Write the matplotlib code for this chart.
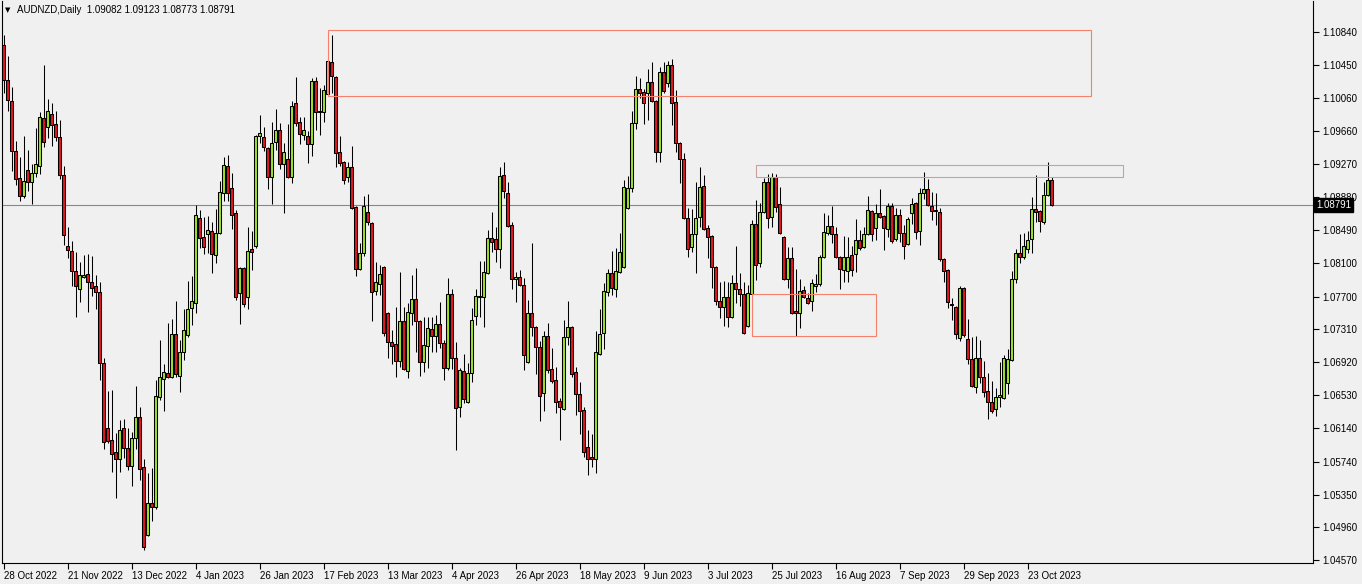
import matplotlib
matplotlib.use("Agg")
import matplotlib.pyplot as plt
from matplotlib.patches import Rectangle
import matplotlib.transforms as mtransforms
import pandas as pd

plt.rcParams['font.family'] = ['Liberation Sans', 'DejaVu Sans']

# ---------------- data ----------------
dates = pd.bdate_range("2022-10-28", periods=263)

opens = [1.10686,1.10270,1.10021,1.09428,1.09107,1.08894,1.09202,1.09059,1.09166,1.09250,
1.09819,1.09713,1.09867,1.09749,1.09594,1.09143,1.08300,1.08241,1.08003,1.07789,
1.07932,1.07968,1.07872,1.07825,1.07754,1.06911,1.06140,1.05997,1.05855,1.05772,
1.06140,1.05902,1.05689,1.06021,1.06270,1.05677,1.04870,1.05249,1.05202,1.06508,
1.06721,1.06792,1.06745,1.07256,1.06756,1.07042,1.07244,1.07564,1.07623,1.08632,
1.08407,1.08443,1.08478,1.08194,1.08454,1.08929,1.09250,1.08988,1.08691,1.07742,
1.08039,1.07694,1.08265,1.08300,1.09606,1.09594,1.09463,1.09119,1.09534,1.09677,
1.09274,1.09333,1.09119,1.09997,1.09772,1.09618,1.09606,1.09511,1.10258,1.09890,
1.09890,1.10105,1.10484,1.10306,1.09416,1.09297,1.09119,1.09238,1.08763,1.08027,
1.08217,1.08703,1.08573,1.07766,1.07849,1.08051,1.07504,1.07160,1.07137,1.06935,
1.07410,1.06816,1.07504,1.07671,1.07410,1.06923,1.07113,1.07315,1.07232,1.07375,
1.07148,1.06852,1.07730,1.06971,1.06389,1.06816,1.06448,1.06792,1.07469,1.07694,
1.07694,1.07979,1.08395,1.08383,1.08265,1.09143,1.08929,1.08550,1.07908,1.07932,
1.07837,1.06923,1.07504,1.07339,1.07101,1.06555,1.07232,1.06840,1.06709,1.06460,
1.06365,1.07220,1.07339,1.06804,1.06543,1.06353,1.05914,1.05796,1.05772,1.07019,
1.07267,1.07754,1.07979,1.07789,1.07991,1.08051,1.08751,1.08988,1.09760,1.10164,
1.10128,1.10116,1.10246,1.10021,1.09416,1.10365,1.10234,1.10449,1.10009,1.09523,
1.09333,1.08632,1.08288,1.08443,1.08644,1.09012,1.08514,1.08419,1.08051,1.07647,
1.07576,1.07694,1.07457,1.07860,1.07789,1.07730,1.07351,1.07730,1.08562,1.08098,
1.08703,1.09059,1.08644,1.09119,1.08799,1.08407,1.07908,1.08158,1.07528,1.07504,
1.07778,1.07682,1.07647,1.07825,1.07849,1.08170,1.08454,1.08538,1.08443,1.08170,
1.08015,1.08003,1.08194,1.08206,1.08371,1.08288,1.08443,1.08715,1.08514,1.08691,
1.08656,1.08502,1.08775,1.08383,1.08668,1.08454,1.08324,1.08691,1.08810,1.08478,
1.08929,1.08977,1.08775,1.08727,1.08703,1.08146,1.08015,1.07611,1.07576,1.07208,
1.07801,1.07196,1.06959,1.06626,1.06971,1.06745,1.06579,1.06448,1.06365,1.06508,
1.06496,1.06673,1.06947,1.07908,1.08217,1.08170,1.08265,1.08383,1.08739,1.08715,
1.08585,1.08906,1.09082]

highs = [1.10805,1.10556,1.10187,1.09546,1.09357,1.09606,1.09440,1.09274,1.09701,1.09890,
1.10449,1.10045,1.09997,1.09902,1.09796,1.09250,1.08526,1.08359,1.08229,1.08110,
1.08194,1.08206,1.08182,1.07956,1.07872,1.06971,1.06579,1.06591,1.06080,1.06235,
1.06246,1.06140,1.06092,1.06638,1.06389,1.05772,1.05605,1.05665,1.06709,1.07184,
1.06900,1.07386,1.07433,1.07647,1.07184,1.07552,1.07884,1.07944,1.08787,1.08727,
1.08644,1.08656,1.08585,1.08739,1.09071,1.09357,1.09381,1.09166,1.08727,1.08051,
1.08051,1.08526,1.08478,1.09618,1.09855,1.09713,1.09475,1.09772,1.09926,1.09760,
1.09523,1.09749,1.10021,1.10306,1.09831,1.09831,1.09665,1.10294,1.10306,1.10175,
1.10211,1.10532,1.10805,1.10318,1.09606,1.09309,1.09297,1.09487,1.08775,1.08336,
1.08894,1.08918,1.08585,1.08110,1.08075,1.08063,1.07516,1.07303,1.07576,1.07991,
1.07576,1.07623,1.07956,1.08039,1.07422,1.07457,1.07457,1.07457,1.07481,1.07635,
1.07184,1.07920,1.07789,1.07160,1.06852,1.07019,1.06911,1.07564,1.07789,1.08122,
1.08122,1.08490,1.08703,1.08526,1.09238,1.09297,1.09059,1.08585,1.07991,1.08015,
1.07920,1.07659,1.08336,1.07351,1.07172,1.07291,1.07386,1.07089,1.06864,1.06496,
1.07422,1.07647,1.07351,1.06864,1.06685,1.06389,1.06116,1.06069,1.07291,1.07552,
1.07860,1.08027,1.08241,1.08277,1.08454,1.09083,1.09131,1.09902,1.10318,1.10294,
1.10164,1.10401,1.10484,1.10033,1.10425,1.10484,1.10496,1.10520,1.10152,1.09534,
1.09404,1.08751,1.08739,1.09059,1.09238,1.09143,1.08550,1.08431,1.08063,1.07872,
1.07884,1.07872,1.07956,1.08300,1.07979,1.07872,1.07837,1.08609,1.08846,1.08810,
1.09107,1.09155,1.09166,1.09155,1.09000,1.08419,1.08288,1.08288,1.08027,1.07908,
1.07825,1.07742,1.07908,1.07968,1.08194,1.08691,1.08668,1.08775,1.08526,1.08182,
1.08419,1.08407,1.08300,1.08620,1.08490,1.08526,1.08894,1.08727,1.08799,1.08977,
1.08668,1.08810,1.08810,1.08751,1.08739,1.08550,1.08644,1.08870,1.08822,1.08988,
1.09178,1.09095,1.08941,1.08929,1.08751,1.08158,1.08027,1.07682,1.07588,1.07825,
1.07813,1.07433,1.07220,1.07232,1.07184,1.06935,1.06792,1.06697,1.06614,1.06923,
1.07006,1.07077,1.08003,1.08265,1.08443,1.08454,1.08478,1.08882,1.09143,1.08727,
1.09059,1.09297,1.09123]

lows = [1.10116,1.09902,1.09190,1.09024,1.08834,1.08870,1.08953,1.08799,1.09119,1.09155,
1.09475,1.09582,1.09487,1.09546,1.09095,1.08312,1.08158,1.07825,1.07457,1.07635,
1.07920,1.07516,1.07707,1.07552,1.06709,1.05890,1.05961,1.05617,1.05309,1.05617,
1.05784,1.05641,1.05451,1.05890,1.05522,1.04692,1.04858,1.05036,1.05178,1.06472,
1.06341,1.06733,1.06733,1.06745,1.06567,1.06947,1.07220,1.07363,1.07504,1.08277,
1.08206,1.08217,1.07979,1.08098,1.08443,1.08834,1.08834,1.08502,1.07659,1.07375,
1.07576,1.07552,1.08015,1.08277,1.09523,1.09428,1.08977,1.08799,1.09440,1.09214,
1.08691,1.09107,1.09047,1.09725,1.09511,1.09558,1.09285,1.09369,1.09677,1.09618,
1.09772,1.10093,1.10116,1.09238,1.09250,1.09036,1.09059,1.08739,1.07944,1.08015,
1.08182,1.08550,1.07410,1.07719,1.07719,1.07232,1.06971,1.06900,1.06745,1.06864,
1.06828,1.06733,1.07363,1.07042,1.06756,1.06804,1.06852,1.07042,1.07042,1.07089,
1.06709,1.06828,1.06840,1.05879,1.06270,1.06436,1.06436,1.06685,1.07363,1.07457,
1.07339,1.07968,1.08229,1.08110,1.08039,1.08870,1.08526,1.07789,1.07635,1.07825,
1.06828,1.06911,1.07232,1.06780,1.06223,1.06341,1.06792,1.06673,1.06317,1.05997,
1.06353,1.07125,1.06745,1.06294,1.06069,1.05796,1.05582,1.05677,1.05605,1.07006,
1.07077,1.07707,1.07719,1.07694,1.07979,1.08039,1.08739,1.08941,1.09689,1.10057,
1.09749,1.09796,1.10009,1.09297,1.09297,1.10116,1.10187,1.09737,1.09416,1.09047,
1.08620,1.08170,1.08229,1.07979,1.08526,1.08490,1.08158,1.07801,1.07600,1.07445,
1.07351,1.07339,1.07445,1.07623,1.07588,1.07256,1.07339,1.07719,1.07896,1.08051,
1.08691,1.08514,1.08526,1.08703,1.08443,1.07896,1.07801,1.07493,1.07232,1.07327,
1.07682,1.07611,1.07528,1.07754,1.07825,1.08158,1.08431,1.08336,1.08158,1.07789,
1.07872,1.07872,1.07944,1.07991,1.08253,1.08277,1.08431,1.08359,1.08371,1.08632,
1.08253,1.08407,1.08336,1.08359,1.08347,1.08146,1.08312,1.08562,1.08383,1.08312,
1.08858,1.08775,1.08609,1.08550,1.08122,1.07872,1.07564,1.07422,1.07196,1.07172,
1.07220,1.06900,1.06626,1.06555,1.06673,1.06508,1.06246,1.06317,1.06282,1.06389,
1.06484,1.06543,1.06935,1.07860,1.08098,1.08146,1.08217,1.08217,1.08585,1.08466,
1.08562,1.08894,1.08773]

closes = [1.10270,1.10033,1.09428,1.09095,1.08894,1.09071,1.09059,1.09166,1.09274,1.09831,
1.09534,1.09902,1.09737,1.09594,1.09143,1.08431,1.08253,1.08003,1.07825,1.07956,
1.07956,1.07872,1.07801,1.07754,1.06911,1.05973,1.05985,1.05832,1.05772,1.06116,
1.05902,1.05689,1.06021,1.06270,1.05653,1.04727,1.05249,1.05202,1.06520,1.06745,
1.06804,1.06745,1.07256,1.06780,1.07042,1.07303,1.07552,1.07647,1.08668,1.08395,
1.08288,1.08490,1.08206,1.08454,1.08941,1.09262,1.08929,1.08668,1.07694,1.08039,
1.07611,1.08241,1.08229,1.09606,1.09642,1.09475,1.09119,1.09523,1.09677,1.09274,
1.09416,1.09119,1.09962,1.09760,1.09630,1.09677,1.09511,1.10258,1.09890,1.09902,
1.10152,1.10496,1.10318,1.09404,1.09285,1.09083,1.09238,1.08751,1.08027,1.08217,
1.08775,1.08585,1.07754,1.07872,1.07968,1.07267,1.07160,1.07113,1.06935,1.07410,
1.06840,1.07516,1.07671,1.07410,1.06923,1.07125,1.07327,1.07232,1.07375,1.07148,
1.06852,1.07730,1.06971,1.06377,1.06828,1.06484,1.06792,1.07422,1.07707,1.07707,
1.07991,1.08395,1.08347,1.08265,1.09131,1.08953,1.08538,1.07908,1.07932,1.07837,
1.07006,1.07504,1.07339,1.07101,1.06520,1.07232,1.06828,1.06697,1.06448,1.06389,
1.07220,1.07339,1.06780,1.06543,1.06341,1.05855,1.05772,1.05772,1.07042,1.07256,
1.07766,1.07979,1.07801,1.08003,1.08229,1.09000,1.08988,1.09760,1.10164,1.10116,
1.09997,1.10246,1.10021,1.09416,1.10365,1.10140,1.10449,1.09997,1.09523,1.09333,
1.08632,1.08265,1.08443,1.08632,1.09000,1.08502,1.08407,1.08051,1.07647,1.07576,
1.07694,1.07457,1.07860,1.07789,1.07730,1.07267,1.07742,1.08562,1.08075,1.08703,
1.09059,1.08632,1.09119,1.08763,1.08454,1.07908,1.08158,1.07504,1.07504,1.07766,
1.07694,1.07623,1.07860,1.07849,1.08170,1.08466,1.08538,1.08443,1.08170,1.08027,
1.08170,1.08170,1.08015,1.08371,1.08277,1.08443,1.08727,1.08443,1.08691,1.08644,
1.08514,1.08775,1.08359,1.08668,1.08454,1.08300,1.08620,1.08799,1.08466,1.08929,
1.08977,1.08787,1.08715,1.08715,1.08146,1.08003,1.07635,1.07600,1.07256,1.07801,
1.07244,1.06959,1.06638,1.06971,1.06745,1.06567,1.06448,1.06341,1.06508,1.06531,
1.06971,1.06959,1.07908,1.08217,1.08170,1.08300,1.08371,1.08739,1.08703,1.08597,
1.08906,1.09083,1.08791]

price_ticks = [1.10840, 1.10450, 1.10060, 1.09660, 1.09270, 1.08880, 1.08490, 1.08100,
               1.07700, 1.07310, 1.06920, 1.06530, 1.06140, 1.05740, 1.05350, 1.04960, 1.04570]

# rectangles drawn on the chart: (first bar, last bar, low price, high price, colour)
zone_start = [81, 188, 187]
zone_end = [271.9, 279.9, 218]
zone_low = [1.10081, 1.09113, 1.07232]
zone_high = [1.10864, 1.09262, 1.07727]
zone_color = ['#F4806E', '#C8A09C', '#F4806E']

title = "AUDNZD,Daily  1.09082 1.09123 1.08773 1.08791"
last_price = 1.08791
label_every = 16

# ---------------- figure ----------------
W, H = 1362, 584
BG = '#F0F0F0'
fig = plt.figure(figsize=(W / 100, H / 100), dpi=100, facecolor=BG)
ax = fig.add_axes([2 / W, (H - 563) / H, (1313 - 2) / W, (563 - 1) / H])
ax.set_facecolor(BG)

ax.set_xlim(-0.375, 327.375)
ax.set_ylim(1.04537, 1.11208)

bull = '#9BE22B'
bear = '#E3161D'
xs = list(range(len(opens)))
ax.vlines(xs, lows, highs, color='black', linewidth=0.75, zorder=2)
for i in xs:
    o, c = opens[i], closes[i]
    lo, hi = min(o, c), max(o, c)
    h = max(hi - lo, 0.00002)
    ax.add_patch(Rectangle((i - 0.3, lo), 0.6, h,
                           facecolor=bull if c > o else bear,
                           edgecolor='black', linewidth=0.75, zorder=3))

# current price line
ax.axhline(last_price, color='#7D8B99', linewidth=0.8, zorder=1)

# zones
for s, e, lo, hi, col in zip(zone_start, zone_end, zone_low, zone_high, zone_color):
    ax.add_patch(Rectangle((s, lo), e - s, hi - lo, fill=False,
                           edgecolor=col, linewidth=0.8, zorder=4))

# axes styling
for sp in ['left', 'right', 'bottom']:
    ax.spines[sp].set_color('black')
    ax.spines[sp].set_linewidth(0.8)
ax.spines['top'].set_visible(False)

ax.yaxis.tick_right()
ax.set_yticks(price_ticks)
ax.set_yticklabels([f"{v:.5f}" for v in price_ticks])
ax.tick_params(axis='y', length=4, width=0.8, pad=3, labelsize=7, colors='black')

tick_idx = list(range(0, len(dates), label_every))
ax.set_xticks(tick_idx)
ax.set_xticklabels([f"{dates[i].day} {dates[i].strftime('%b %Y')}" for i in tick_idx])
shift = mtransforms.ScaledTranslation(-2 / 100, 0, fig.dpi_scale_trans)
for lbl in ax.get_xticklabels():
    lbl.set_horizontalalignment('left')
    lbl.set_transform(lbl.get_transform() + shift)
ax.tick_params(axis='x', length=4, width=0.8, pad=2, labelsize=7, colors='black')

# last price tag
trans = mtransforms.blended_transform_factory(ax.transAxes, ax.transData)
ax.text(1.0025, last_price, f"{last_price:.5f}", transform=trans, color='white',
        fontsize=7, va='center', ha='left', zorder=6, clip_on=False,
        bbox=dict(boxstyle='square,pad=0.2', fc='black', ec='black'))

# title
fig.text(5 / W, 1 - 10 / H, '\u25BC', fontsize=5, va='center', ha='left', family='DejaVu Sans')
fig.text(17 / W, 1 - 10 / H, title, fontsize=7, va='center', ha='left')

fig.savefig('out.png', dpi=100, facecolor=BG)
